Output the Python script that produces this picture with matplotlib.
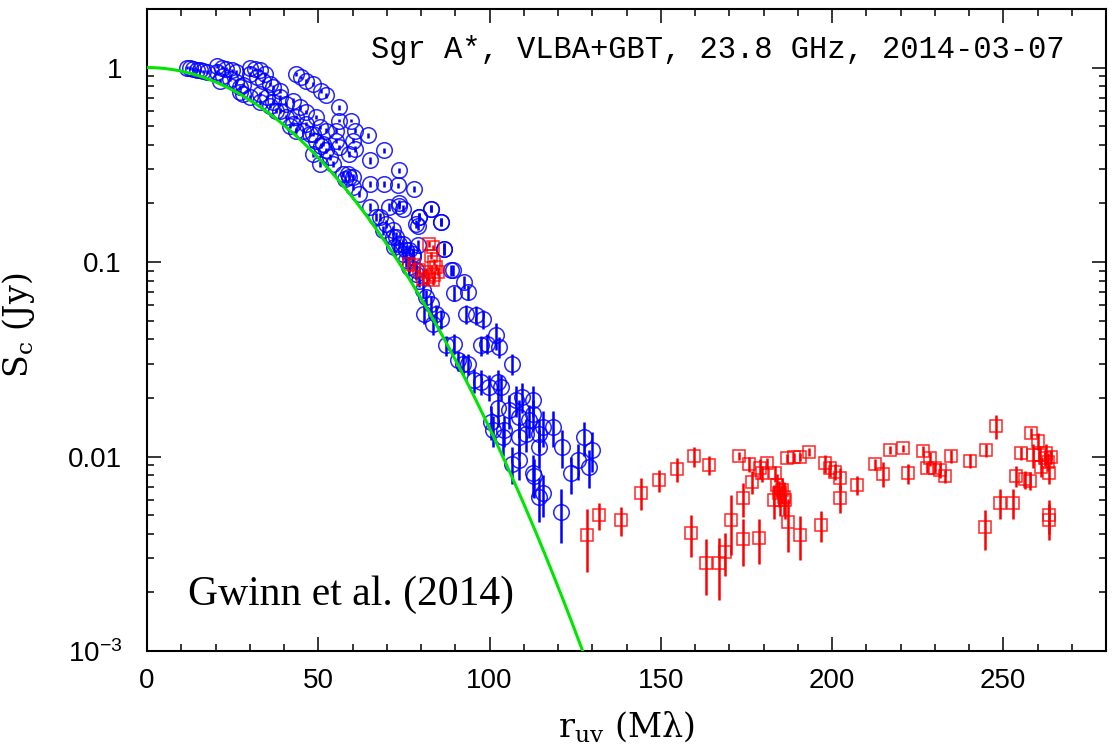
import numpy as np
import matplotlib
matplotlib.use("Agg")
import matplotlib.pyplot as plt
from matplotlib.ticker import MultipleLocator, LogLocator, NullFormatter

plt.rcParams['mathtext.default'] = 'regular'

# VLBA correlated flux (blue circles): baseline length (Mlambda), flux (Jy), 1-sigma error
blue_r = [11.6, 12.5, 13.5, 14.5, 15.4, 16.4, 17.4, 20.3, 21.8, 23.2,
          24.7, 26.1, 20.3, 22.2, 24.2, 26.1, 28.1, 30.0, 31.5, 32.9,
          34.4, 30.0, 32.0, 33.9, 35.8, 36.8, 38.7, 43.6, 45.1, 46.5,
          48.5, 50.9, 52.3, 56.2, 59.6, 60.6, 64.5, 60.6, 65.0, 69.3,
          73.7, 65.0, 69.3, 73.2, 78.1, 73.7, 74.7, 79.5, 83.0, 85.9,
          78.5, 86.8, 89.3, 27.1, 30.0, 32.9, 35.8, 38.7, 40.7, 42.6,
          45.5, 47.5, 49.4, 50.9, 52.3, 48.5, 50.4, 54.3, 57.2, 59.1,
          60.1, 62.0, 65.0, 67.9, 69.8, 71.8, 72.7, 74.7, 76.6, 77.6,
          75.6, 78.5, 38.7, 40.7, 42.6, 44.6, 46.5, 49.4, 43.6, 46.5,
          50.4, 52.3, 48.5, 55.3, 56.2, 59.1, 53.3, 55.3, 60.1, 56.2,
          51.4, 43.6, 41.7, 34.9, 36.8, 37.8, 32.9, 27.1, 28.1, 21.3,
          57.7, 58.6, 60.1, 70.8, 73.7, 82.9, 79.5, 79.0, 85.8, 66.9,
          68.9, 71.8, 73.7, 75.7, 77.6, 72.2, 74.7, 76.6, 78.6, 79.5,
          80.5, 81.5, 82.9, 84.4, 85.9, 81.0, 83.4, 79.0, 86.8, 88.8,
          92.6, 89.7, 93.6, 93.1, 96.0, 98.0, 101.9, 99.4, 102.9, 97.5,
          106.7, 87.3, 89.7, 90.7, 92.2, 93.6, 95.6, 97.5, 99.9, 102.4,
          103.3, 102.4, 100.9, 103.8, 105.8, 107.7, 109.6, 112.6, 108.7, 111.6,
          110.6, 114.5, 115.5, 118.4, 114.5, 121.3, 106.7, 108.7, 112.6, 123.7,
          125.7, 127.6, 130.0, 129.1, 115.5, 114.5, 120.8, 100.4, 104.3, 108.7,
          112.6, 113.0]
blue_s = [1.00, 0.995, 0.984, 0.973, 0.966, 0.957, 0.946, 1.02, 1.00, 0.984,
          0.966, 0.946, 0.946, 0.91, 0.875, 0.84, 0.81, 1.00, 0.98, 0.966,
          0.93, 0.93, 0.89, 0.857, 0.824, 0.79, 0.76, 0.93, 0.89, 0.857,
          0.824, 0.76, 0.72, 0.625, 0.534, 0.474, 0.448, 0.382, 0.333, 0.375,
          0.296, 0.252, 0.252, 0.248, 0.238, 0.20, 0.188, 0.170, 0.188, 0.161,
          0.157, 0.117, 0.0906, 0.746, 0.705, 0.664, 0.638, 0.601, 0.556, 0.514,
          0.474, 0.456, 0.421, 0.397, 0.375, 0.36, 0.32, 0.32, 0.284, 0.273,
          0.243, 0.224, 0.192, 0.170, 0.157, 0.146, 0.134, 0.124, 0.115, 0.110,
          0.102, 0.0906, 0.705, 0.65, 0.676, 0.625, 0.59, 0.556, 0.556, 0.514,
          0.494, 0.474, 0.456, 0.421, 0.39, 0.36, 0.346, 0.474, 0.421, 0.534,
          0.405, 0.474, 0.50, 0.705, 0.664, 0.601, 0.733, 0.79, 0.733, 0.857,
          0.268, 0.284, 0.273, 0.192, 0.195, 0.188, 0.170, 0.154, 0.161, 0.170,
          0.146, 0.135, 0.124, 0.115, 0.106, 0.119, 0.110, 0.094, 0.087, 0.080,
          0.0716, 0.066, 0.061, 0.054, 0.051, 0.054, 0.048, 0.122, 0.117, 0.0906,
          0.079, 0.0689, 0.070, 0.054, 0.0532, 0.051, 0.042, 0.038, 0.0366, 0.0373,
          0.030, 0.0373, 0.038, 0.0313, 0.030, 0.030, 0.0247, 0.0242, 0.0228, 0.0242,
          0.0228, 0.0177, 0.0137, 0.0126, 0.0173, 0.0195, 0.0203, 0.0195, 0.016, 0.0154,
          0.0131, 0.0131, 0.0142, 0.0142, 0.0112, 0.0112, 0.0092, 0.0096, 0.0082, 0.0082,
          0.0096, 0.0126, 0.0108, 0.00885, 0.00646, 0.0062, 0.0052, 0.0151, 0.0137, 0.0126,
          0.0166, 0.0079]
blue_e = [0.02, 0.02, 0.02, 0.02, 0.02, 0.02, 0.02, 0.02, 0.02, 0.02,
          0.02, 0.02, 0.02, 0.02, 0.02, 0.02, 0.02, 0.02, 0.02, 0.02,
          0.02, 0.02, 0.02, 0.02, 0.02, 0.02, 0.02, 0.02, 0.02, 0.02,
          0.02, 0.02, 0.02, 0.018, 0.012, 0.012, 0.012, 0.012, 0.012, 0.012,
          0.010, 0.008, 0.008, 0.008, 0.008, 0.008, 0.008, 0.008, 0.008, 0.008,
          0.008, 0.008, 0.006, 0.02, 0.02, 0.02, 0.02, 0.018, 0.015, 0.012,
          0.012, 0.012, 0.012, 0.012, 0.012, 0.012, 0.012, 0.012, 0.010, 0.010,
          0.008, 0.008, 0.008, 0.008, 0.008, 0.008, 0.008, 0.008, 0.008, 0.008,
          0.008, 0.006, 0.02, 0.018, 0.018, 0.018, 0.015, 0.015, 0.015, 0.012,
          0.012, 0.012, 0.012, 0.012, 0.012, 0.012, 0.012, 0.012, 0.012, 0.012,
          0.012, 0.012, 0.012, 0.02, 0.02, 0.018, 0.02, 0.02, 0.02, 0.02,
          0.010, 0.010, 0.010, 0.008, 0.008, 0.008, 0.008, 0.008, 0.008, 0.008,
          0.008, 0.008, 0.008, 0.008, 0.008, 0.008, 0.008, 0.006, 0.006, 0.006,
          0.006, 0.006, 0.006, 0.006, 0.006, 0.006, 0.006, 0.008, 0.008, 0.006,
          0.006, 0.006, 0.006, 0.006, 0.006, 0.006, 0.0065, 0.0045, 0.0045, 0.0045,
          0.0037, 0.0045, 0.0045, 0.0037, 0.0037, 0.0037, 0.0035, 0.0035, 0.0035, 0.0035,
          0.0035, 0.0035, 0.0025, 0.0025, 0.0035, 0.0035, 0.0035, 0.0035, 0.0035, 0.0030,
          0.0025, 0.0025, 0.0030, 0.0030, 0.0025, 0.0025, 0.0020, 0.0020, 0.0020, 0.0018,
          0.0020, 0.0025, 0.0025, 0.0020, 0.0016, 0.0016, 0.0016, 0.0030, 0.0025, 0.0025,
          0.0030, 0.0018]

# VLBA+GBT correlated flux (red squares)
red_r = [82.4, 83.4, 82.9, 83.9, 84.4, 84.9, 83.9, 82.4, 81.5, 80.5,
         83.4, 78.1, 76.6, 79.5, 128.6, 132.0, 138.3, 144.1, 149.5, 154.8,
         159.7, 164.0, 158.7, 163.1, 167.0, 168.9, 170.6, 174.0, 174.0, 176.7,
         178.6, 172.8, 175.9, 179.1, 181.0, 179.6, 183.5, 184.0, 183.0, 184.4,
         185.4, 185.9, 186.4, 184.9, 187.2, 190.8, 186.9, 188.8, 190.8, 193.2,
         196.9, 198.0, 199.5, 200.9, 202.4, 202.4, 207.3, 212.6, 215.0, 216.9,
         220.8, 222.1, 226.6, 228.6, 227.6, 230.0, 231.5, 233.0, 234.7, 240.2,
         244.6, 245.1, 248.0, 249.0, 252.9, 253.8, 255.3, 256.3, 257.7, 258.0,
         260.1, 258.7, 260.6, 262.6, 263.1, 263.5, 261.1, 263.5, 263.5, 262.1,
         264.0]
red_s = [0.124, 0.119, 0.108, 0.100, 0.094, 0.0889, 0.0855, 0.0838, 0.0889, 0.082,
         0.0805, 0.096, 0.098, 0.0906, 0.00395, 0.0050, 0.00472, 0.00652, 0.00757, 0.00859,
         0.01005, 0.00903, 0.00403, 0.00285, 0.00282, 0.00324, 0.00472, 0.00375, 0.0061, 0.00743,
         0.00379, 0.01005, 0.00914, 0.00869, 0.00923, 0.00819, 0.00819, 0.00713, 0.00597, 0.00647,
         0.00673, 0.00622, 0.00597, 0.00597, 0.00462, 0.00395, 0.00977, 0.0099, 0.00998, 0.0106,
         0.00445, 0.00923, 0.00869, 0.00836, 0.00773, 0.0061, 0.00713, 0.00914, 0.00813, 0.01086,
         0.0110, 0.00819, 0.0107, 0.00977, 0.00878, 0.00878, 0.00851, 0.00793, 0.01005, 0.0095,
         0.00432, 0.0108, 0.0143, 0.00578, 0.00578, 0.00793, 0.01045, 0.00762, 0.0075, 0.01324,
         0.0120, 0.01016, 0.01016, 0.01037, 0.0094, 0.00819, 0.00885, 0.0050, 0.00471, 0.00977,
         0.00995]
red_e = [0.004, 0.004, 0.004, 0.004, 0.004, 0.004, 0.004, 0.004, 0.004, 0.004,
         0.004, 0.004, 0.004, 0.004, 0.0014, 0.0008, 0.0008, 0.0012, 0.0010, 0.0012,
         0.0012, 0.0010, 0.0010, 0.0009, 0.0010, 0.0008, 0.0016, 0.0010, 0.0012, 0.0010,
         0.0010, 0.0005, 0.0008, 0.0010, 0.0006, 0.0008, 0.0008, 0.0010, 0.0012, 0.0010,
         0.0010, 0.0012, 0.0012, 0.0010, 0.0014, 0.0010, 0.0005, 0.0005, 0.0005, 0.0005,
         0.0008, 0.0010, 0.0008, 0.0008, 0.0010, 0.0010, 0.0008, 0.0006, 0.0012, 0.0005,
         0.0005, 0.0010, 0.0006, 0.0008, 0.0006, 0.0006, 0.0008, 0.0006, 0.0008, 0.0008,
         0.0010, 0.0008, 0.0020, 0.0010, 0.0010, 0.0010, 0.0008, 0.0008, 0.0008, 0.0008,
         0.0012, 0.0014, 0.0010, 0.0012, 0.0010, 0.0010, 0.0010, 0.0010, 0.0010, 0.0008,
         0.0008]

# gaussian model of the scatter-broadened source (1/e half width, Mlambda)
gauss_width = 48.4

x_ticks = [0, 50, 100, 150, 200, 250]
y_ticks = [1e-3, 1e-2, 0.1, 1]
y_ticklabels = ['$10^{-3}$', '0.01', '0.1', '1']

fig = plt.figure(figsize=(11.12, 7.53), dpi=100)
ax = fig.add_axes([147/1112, 102/753, 959/1112, 642/753])

ax.errorbar(blue_r, blue_s, yerr=blue_e, fmt='none', ecolor='blue',
            elinewidth=1.8, capsize=0, zorder=2)
ax.plot(blue_r, blue_s, 'o', mfc='none', mec='blue', ms=11.2, mew=1.1,
        alpha=0.85, zorder=2)

ax.errorbar(red_r, red_s, yerr=red_e, fmt='none', ecolor='red',
            elinewidth=1.8, capsize=0, zorder=3)
ax.plot(red_r, red_s, 's', mfc='none', mec='red', ms=9.2, mew=1.1,
        alpha=0.85, zorder=3)

r = np.linspace(0, 280, 600)
ax.plot(r, np.exp(-(r / gauss_width)**2), color='#00e600', lw=2.2, zorder=4)

ax.set_yscale('log')
ax.set_xlim(0, 280)
ax.set_ylim(1e-3, 2.0)

ax.set_xticks(x_ticks)
ax.xaxis.set_minor_locator(MultipleLocator(10))
ax.set_yticks(y_ticks)
ax.set_yticklabels(y_ticklabels)
ax.yaxis.set_minor_locator(LogLocator(base=10, subs=np.arange(2, 10)))
ax.yaxis.set_minor_formatter(NullFormatter())

ax.tick_params(which='both', direction='in', top=True, right=True, width=1.1)
ax.tick_params(which='major', length=10)
ax.tick_params(which='minor', length=5)
ax.tick_params(axis='x', pad=12)
ax.tick_params(axis='y', pad=18)
for lab in ax.get_xticklabels() + ax.get_yticklabels():
    lab.set_family('Liberation Sans')
    lab.set_fontsize(20)
for sp in ax.spines.values():
    sp.set_linewidth(1.5)

ax.set_xlabel('r$_{uv}$ (Mλ)', family='DejaVu Serif', fontsize=24)
ax.set_ylabel('S$_c$ (Jy)', family='DejaVu Serif', fontsize=24)
ax.xaxis.set_label_coords(0.5, -0.09)
ax.yaxis.set_label_coords(-0.115, 0.508)

ax.text(0.957, 0.924, 'Sgr A*, VLBA+GBT, 23.8 GHz, 2014-03-07',
        transform=ax.transAxes, ha='right', va='baseline',
        family='Liberation Mono', fontsize=22)
ax.text(0.043, 0.072, 'Gwinn et al. (2014)', transform=ax.transAxes,
        ha='left', va='baseline', family='Liberation Serif', fontsize=30)

fig.savefig('out.png', dpi=100)
